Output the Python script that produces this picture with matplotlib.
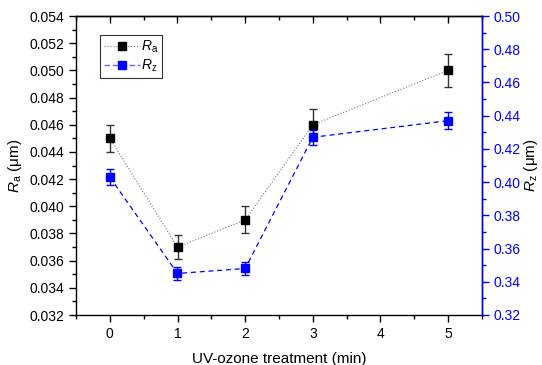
import matplotlib
matplotlib.use("Agg")
import matplotlib.pyplot as plt
from matplotlib.ticker import MultipleLocator
from matplotlib.lines import Line2D

plt.rcParams['font.family'] = ['Liberation Sans', 'DejaVu Sans']
plt.rcParams['mathtext.fontset'] = 'custom'
plt.rcParams['mathtext.rm'] = 'Liberation Sans'
plt.rcParams['mathtext.it'] = 'Liberation Sans:italic'

time_min = [0, 1, 2, 3, 5]
ra = [0.045, 0.037, 0.039, 0.046, 0.050]
ra_err = [0.0010, 0.0009, 0.0010, 0.00115, 0.0012]
rz = [0.403, 0.345, 0.348, 0.427, 0.437]
rz_err = [0.005, 0.004, 0.004, 0.0045, 0.0053]

fig = plt.figure(figsize=(5.42, 3.65), dpi=100)
ax = fig.add_axes([76/542, 1-315/365, (482-76)/542, (315-16)/365])
ax2 = ax.twinx()

l1 = ax.errorbar(time_min, ra, yerr=ra_err, color='black', marker='s', markersize=6,
                 linestyle=':', linewidth=0.8, capsize=3, elinewidth=1, ecolor='#333333')
l1[0].set_color('#777777')
l1[0].set_markerfacecolor('black'); l1[0].set_markeredgecolor('black')
l2 = ax2.errorbar(time_min, rz, yerr=rz_err, color='blue', marker='s', markersize=6,
                  linestyle='--', linewidth=0.9, dashes=(4, 3), capsize=3, elinewidth=1)

ax.set_xlim(-0.5, 5.5)
ax.set_ylim(0.032, 0.054)
ax2.set_ylim(0.32, 0.50)
ax.xaxis.set_major_locator(MultipleLocator(1))
ax.xaxis.set_minor_locator(MultipleLocator(0.5))
ax.yaxis.set_major_locator(MultipleLocator(0.002))
ax.yaxis.set_minor_locator(MultipleLocator(0.001))
ax2.yaxis.set_major_locator(MultipleLocator(0.02))
ax2.yaxis.set_minor_locator(MultipleLocator(0.01))
ax.yaxis.set_major_formatter(plt.FormatStrFormatter('%.3f'))
ax2.yaxis.set_major_formatter(plt.FormatStrFormatter('%.2f'))

ax.tick_params(axis='both', which='major', labelsize=10, length=5, width=1, direction='out')
ax.tick_params(axis='both', which='minor', length=3, width=1, direction='out')

# top ticks pointing inward via secondary axis
axt = ax.secondary_xaxis('top')
axt.xaxis.set_major_locator(MultipleLocator(1))
axt.xaxis.set_minor_locator(MultipleLocator(0.5))
axt.tick_params(axis='x', which='major', direction='in', length=5, width=1, labeltop=False)
axt.tick_params(axis='x', which='minor', direction='in', length=3, width=1)
axt.spines['top'].set_linewidth(1)

ax2.tick_params(axis='y', which='major', labelsize=10, length=5, width=1, colors='blue', direction='out')
ax2.tick_params(axis='y', which='minor', length=3, width=1, colors='blue', direction='out')
for s in ax.spines.values():
    s.set_linewidth(1)
ax2.spines['right'].set_color('blue')
ax2.spines['right'].set_linewidth(1)
for s in ['left', 'top', 'bottom']:
    ax2.spines[s].set_visible(False)

ax.set_xlabel('UV-ozone treatment (min)', fontsize=11, labelpad=8)
ax.set_ylabel(r'$\mathit{R}_\mathrm{a}$ ($\mathrm{\mu}$m)', fontsize=11, labelpad=4)
ax2.set_ylabel(r'$\mathit{R}_\mathrm{z}$ ($\mathrm{\mu}$m)', fontsize=11, labelpad=1, rotation=90)

h1 = Line2D([], [], color='#777777', linestyle=':', linewidth=0.8, marker='s', markersize=6,
            markerfacecolor='black', markeredgecolor='black')
h2 = Line2D([], [], color='#6666ff', linestyle='--', dashes=(4, 2), linewidth=1, marker='s',
            markersize=6, markerfacecolor='blue', markeredgecolor='blue')
leg = ax.legend([h1, h2], [r'$\mathit{R}_\mathrm{a}$', r'$\mathit{R}_\mathrm{z}$'],
                loc='upper left', bbox_to_anchor=(0.06, 0.935), fontsize=10,
                frameon=True, fancybox=False, edgecolor='black', handlelength=2.6,
                handletextpad=0.1, borderpad=0.25, labelspacing=0.2, borderaxespad=0)
leg.get_frame().set_linewidth(0.8)

fig.savefig('out.png', dpi=100)
